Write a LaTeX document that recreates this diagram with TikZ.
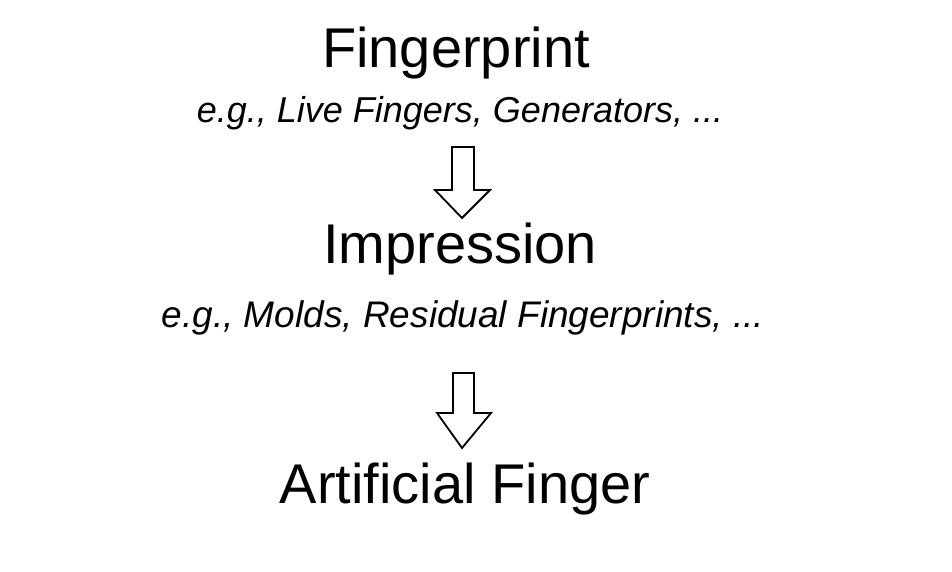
\documentclass[tikz,border=0pt]{standalone}
\usepackage{fontspec}
\setmainfont{Liberation Sans}
\begin{document}
\begin{tikzpicture}[x=1pt,y=-1pt,
  head/.style={anchor=base,inner sep=0pt,font=\fontsize{56}{60}\selectfont},
  sub/.style={anchor=base,inner sep=0pt,font=\fontsize{36}{40}\selectfont\itshape},
  blockarrow/.style={draw=black,fill=white,line width=1.8pt,line join=miter}]
\useasboundingbox (0,0) rectangle (952,572);
\node[head] (fp) at (456,68) {Fingerprint};
\node[sub] (s1) at (460,123) {e.g., Live Fingers, Generators, ...};
\node[head] (imp) at (460,263) {Impression};
\node[sub,font=\fontsize{37}{40}\selectfont\itshape] (s2) at (463,327) {e.g., Molds, Residual Fingerprints, ...};
\node[head] (af) at (465,503) {Artificial Finger};
% block arrow 1
\draw[blockarrow] (452,147) -- (474,147) -- (474,190) -- (490,190) -- (462,218) -- (435,190) -- (452,190) -- cycle;
% block arrow 2
\draw[blockarrow] (453,373) -- (474,373) -- (474,413) -- (491,413) -- (462,448) -- (437,413) -- (453,413) -- cycle;
\end{tikzpicture}
\end{document}
